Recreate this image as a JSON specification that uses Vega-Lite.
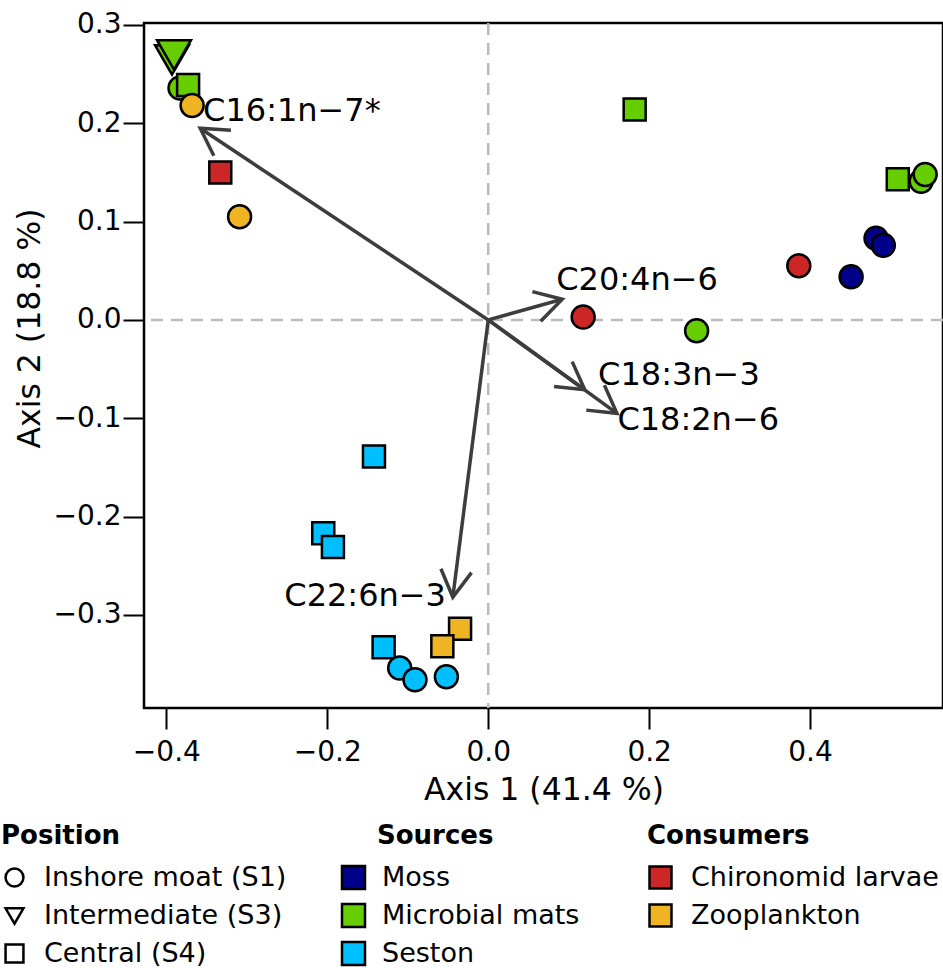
{
  "$schema": "https://vega.github.io/schema/vega-lite/v6.json",
  "autosize": {"type": "none"},
  "padding": {"left": 144, "top": 23, "right": 0, "bottom": 260},
  "width": 799,
  "height": 685,
  "background": "white",
  "config": {
    "font": "DejaVu Sans",
    "view": {"stroke": "black", "strokeWidth": 2.5},
    "axis": {
      "grid": false, "domain": false, "ticks": true,
      "tickColor": "black", "tickWidth": 2, "tickSize": 21,
      "labelFont": "DejaVu Sans", "labelFontSize": 28, "labelColor": "black",
      "titleFont": "DejaVu Sans", "titleFontSize": 31.5, "titleFontWeight": "normal", "titleColor": "black"
    },
    "legend": {
      "orient": "none",
      "titleFont": "DejaVu Sans", "titleFontSize": 26, "titleFontWeight": "bold", "titleColor": "black",
      "labelFont": "DejaVu Sans", "labelFontSize": 27, "labelColor": "black", "labelLimit": 500,
      "titlePadding": 15, "rowPadding": 5, "symbolOpacity": 1
    }
  },
  "datasets": {
    "origin": [{"a1": 0, "a2": 0}],
    "sources": [
      {"taxon": "Microbial mats", "pos": "Intermediate (S3)", "a1": -0.393, "a2": 0.2645},
      {"taxon": "Microbial mats", "pos": "Intermediate (S3)", "a1": -0.3905, "a2": 0.2696},
      {"taxon": "Microbial mats", "pos": "Inshore moat (S1)", "a1": -0.383, "a2": 0.236},
      {"taxon": "Microbial mats", "pos": "Central (S4)", "a1": -0.373, "a2": 0.239},
      {"taxon": "Microbial mats", "pos": "Central (S4)", "a1": 0.182, "a2": 0.214},
      {"taxon": "Microbial mats", "pos": "Central (S4)", "a1": 0.509, "a2": 0.143},
      {"taxon": "Microbial mats", "pos": "Inshore moat (S1)", "a1": 0.538, "a2": 0.141},
      {"taxon": "Microbial mats", "pos": "Inshore moat (S1)", "a1": 0.543, "a2": 0.148},
      {"taxon": "Microbial mats", "pos": "Inshore moat (S1)", "a1": 0.259, "a2": -0.011},
      {"taxon": "Moss", "pos": "Inshore moat (S1)", "a1": 0.482, "a2": 0.083},
      {"taxon": "Moss", "pos": "Inshore moat (S1)", "a1": 0.491, "a2": 0.076},
      {"taxon": "Moss", "pos": "Inshore moat (S1)", "a1": 0.451, "a2": 0.044},
      {"taxon": "Seston", "pos": "Central (S4)", "a1": -0.142, "a2": -0.139},
      {"taxon": "Seston", "pos": "Central (S4)", "a1": -0.205, "a2": -0.217},
      {"taxon": "Seston", "pos": "Central (S4)", "a1": -0.193, "a2": -0.231},
      {"taxon": "Seston", "pos": "Central (S4)", "a1": -0.130, "a2": -0.333},
      {"taxon": "Seston", "pos": "Inshore moat (S1)", "a1": -0.110, "a2": -0.354},
      {"taxon": "Seston", "pos": "Inshore moat (S1)", "a1": -0.091, "a2": -0.366},
      {"taxon": "Seston", "pos": "Inshore moat (S1)", "a1": -0.052, "a2": -0.363}
    ],
    "consumers": [
      {"taxon": "Chironomid larvae", "pos": "Central (S4)", "a1": -0.333, "a2": 0.150},
      {"taxon": "Chironomid larvae", "pos": "Inshore moat (S1)", "a1": 0.386, "a2": 0.055},
      {"taxon": "Chironomid larvae", "pos": "Inshore moat (S1)", "a1": 0.118, "a2": 0.003},
      {"taxon": "Zooplankton", "pos": "Inshore moat (S1)", "a1": -0.368, "a2": 0.218},
      {"taxon": "Zooplankton", "pos": "Inshore moat (S1)", "a1": -0.309, "a2": 0.105},
      {"taxon": "Zooplankton", "pos": "Central (S4)", "a1": -0.035, "a2": -0.314},
      {"taxon": "Zooplankton", "pos": "Central (S4)", "a1": -0.057, "a2": -0.332}
    ],
    "vectors": [
      {"name": "C16:1n−7*", "a1": -0.358, "a2": 0.195, "l1": -0.244, "l2": 0.213},
      {"name": "C20:4n−6", "a1": 0.092, "a2": 0.021, "l1": 0.185, "l2": 0.041},
      {"name": "C18:3n−3", "a1": 0.120, "a2": -0.071, "l1": 0.237, "l2": -0.056},
      {"name": "C18:2n−6", "a1": 0.160, "a2": -0.095, "l1": 0.261, "l2": -0.102},
      {"name": "C22:6n−3", "a1": -0.044, "a2": -0.282, "l1": -0.153, "l2": -0.281}
    ]
  },
  "resolve": {"scale": {"fill": "independent"}},
  "layer": [
    {
      "data": {"name": "origin"},
      "mark": {"type": "rule", "color": "#bababa", "strokeWidth": 2.5, "strokeDash": [12, 8]},
      "encoding": {
        "x": {"field": "a1", "type": "quantitative",
          "scale": {"domain": [-0.4278, 0.5652], "nice": false, "zero": false},
          "axis": {"title": "Axis 1 (41.4 %)", "values": [-0.4, -0.2, 0, 0.2, 0.4], "format": ".1f", "labelPadding": 9, "titleY": 82, "titleBaseline": "middle"}}
      }
    },
    {
      "data": {"name": "origin"},
      "mark": {"type": "rule", "color": "#bababa", "strokeWidth": 2.5, "strokeDash": [12, 8]},
      "encoding": {
        "y": {"field": "a2", "type": "quantitative",
          "scale": {"domain": [-0.3947, 0.302], "nice": false, "zero": false},
          "axis": {"title": "Axis 2 (18.8 %)", "values": [-0.3, -0.2, -0.1, 0, 0.1, 0.2, 0.3], "format": ".1f", "labelPadding": 2, "titleX": -114, "titleY": 305, "titleBaseline": "middle"}}
      }
    },
    {
      "data": {"name": "vectors"},
      "mark": {"type": "rule", "color": "#3d3d3d", "strokeWidth": 3.5},
      "encoding": {
        "x": {"field": "a1", "type": "quantitative"},
        "y": {"field": "a2", "type": "quantitative"},
        "x2": {"datum": 0},
        "y2": {"datum": 0}
      }
    },
    {
      "data": {"name": "vectors"},
      "transform": [{"calculate": "atan2(-datum.a2 * 983.2, datum.a1 * 804.6) * 180 / PI", "as": "ang"}],
      "mark": {"type": "point", "shape": "M -0.866 -0.5 L 0 0 L -0.866 0.5", "filled": false, "stroke": "#3d3d3d", "strokeWidth": 3.5, "strokeJoin": "miter", "opacity": 1, "size": 3800},
      "encoding": {
        "x": {"field": "a1", "type": "quantitative"},
        "y": {"field": "a2", "type": "quantitative"},
        "angle": {"field": "ang", "type": "quantitative", "scale": null}
      }
    },
    {
      "data": {"name": "sources"},
      "mark": {"type": "point", "filled": true, "stroke": "black", "strokeWidth": 2.5, "opacity": 1},
      "encoding": {
        "x": {"field": "a1", "type": "quantitative"},
        "y": {"field": "a2", "type": "quantitative"},
        "fill": {"field": "taxon", "type": "nominal",
          "scale": {"domain": ["Moss", "Microbial mats", "Seston"], "range": ["#00008B", "#66CD00", "#00BFFF"]},
          "legend": {"title": "Sources", "legendX": 233, "legendY": 800, "symbolType": "square", "symbolSize": 529, "symbolStrokeColor": "black", "symbolStrokeWidth": 2.5, "symbolOffset": -37, "labelOffset": 15}},
        "shape": {"field": "pos", "type": "nominal",
          "scale": {"domain": ["Inshore moat (S1)", "Intermediate (S3)", "Central (S4)"], "range": ["circle", "triangle-down", "square"]},
          "legend": {"title": "Position", "legendX": -143, "legendY": 800, "symbolSize": 320, "symbolFillColor": "white", "symbolStrokeColor": "black", "symbolStrokeWidth": 2.5, "labelOffset": 16, "rowPadding": 9.5}},
        "size": {"field": "pos", "type": "nominal",
          "scale": {"type": "ordinal", "domain": ["Central (S4)", "Inshore moat (S1)", "Intermediate (S3)"], "range": [484, 529, 1150]},
          "legend": null}
      }
    },
    {
      "data": {"name": "consumers"},
      "mark": {"type": "point", "filled": true, "stroke": "black", "strokeWidth": 2.5, "opacity": 1},
      "encoding": {
        "x": {"field": "a1", "type": "quantitative"},
        "y": {"field": "a2", "type": "quantitative"},
        "fill": {"field": "taxon", "type": "nominal",
          "scale": {"domain": ["Chironomid larvae", "Zooplankton"], "range": ["#CD2626", "#EEB422"]},
          "legend": {"title": "Consumers", "legendX": 503, "legendY": 800, "symbolType": "square", "symbolSize": 484, "symbolStrokeColor": "black", "symbolStrokeWidth": 2.5, "labelOffset": 17}},
        "shape": {"field": "pos", "type": "nominal",
          "scale": {"domain": ["Inshore moat (S1)", "Intermediate (S3)", "Central (S4)"], "range": ["circle", "triangle-down", "square"]},
          "legend": {"title": "Position", "legendX": -143, "legendY": 800, "symbolSize": 320, "symbolFillColor": "white", "symbolStrokeColor": "black", "symbolStrokeWidth": 2.5, "labelOffset": 16, "rowPadding": 9.5}},
        "size": {"field": "pos", "type": "nominal",
          "scale": {"type": "ordinal", "domain": ["Central (S4)", "Inshore moat (S1)", "Intermediate (S3)"], "range": [484, 529, 1150]},
          "legend": null}
      }
    },
    {
      "data": {"name": "vectors"},
      "mark": {"type": "text", "font": "DejaVu Sans", "fontSize": 32, "color": "black", "align": "center", "baseline": "middle"},
      "encoding": {
        "x": {"field": "l1", "type": "quantitative"},
        "y": {"field": "l2", "type": "quantitative"},
        "text": {"field": "name"}
      }
    }
  ]
}
